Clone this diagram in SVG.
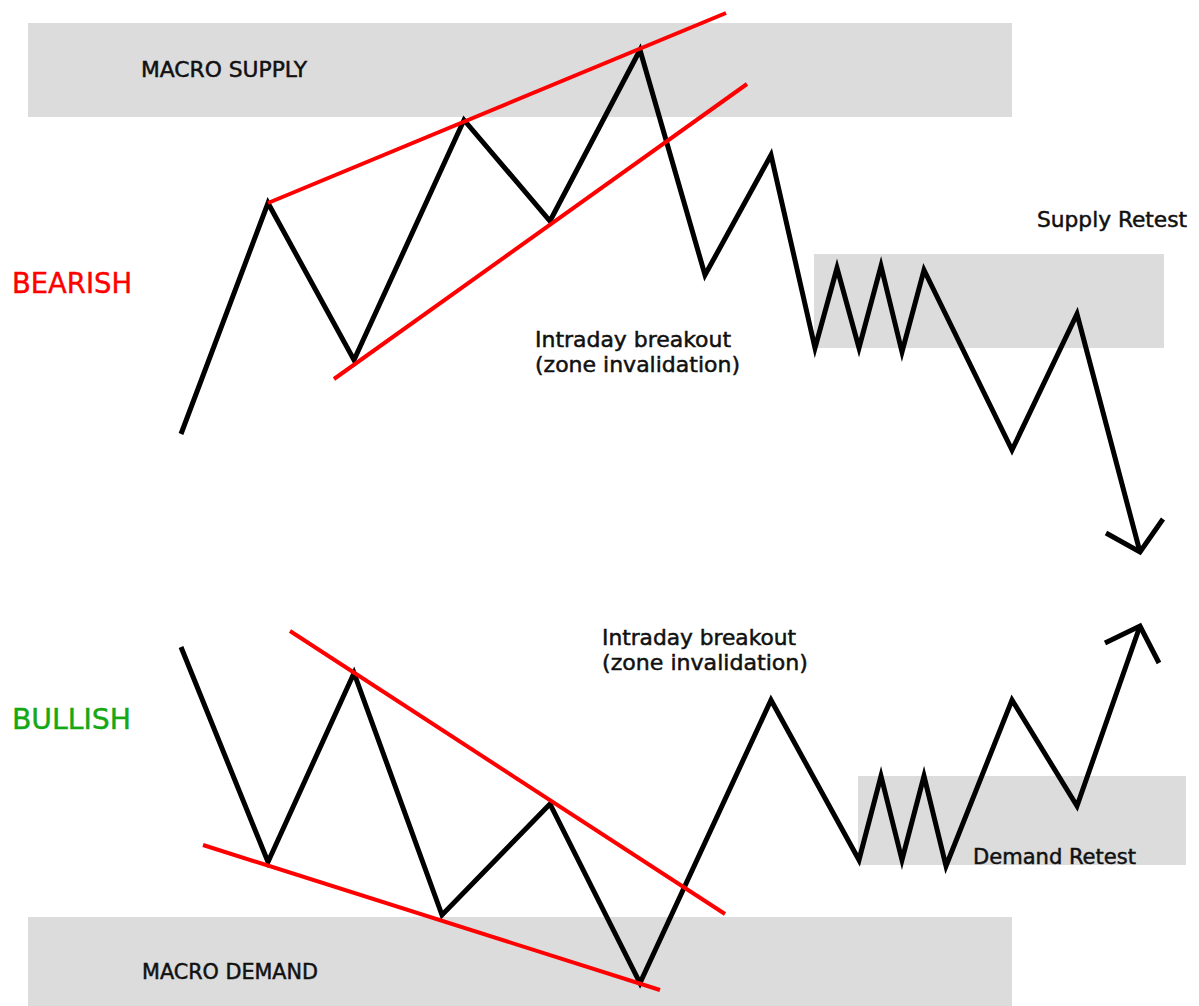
<svg xmlns="http://www.w3.org/2000/svg" width="1199" height="1006" viewBox="0 0 1199 1006">
<style>
.zone{fill:#dcdcdc}
.price{fill:none;stroke:#000;stroke-width:5;stroke-linejoin:miter;stroke-miterlimit:10}
.trend{fill:none;stroke:#ff0000;stroke-width:4}
.lbl{font-family:"DejaVu Sans Condensed","DejaVu Sans","Liberation Sans",sans-serif;font-size:21px;fill:#111;stroke:#111;stroke-width:0.45}
.big{font-family:"DejaVu Sans Condensed","DejaVu Sans","Liberation Sans",sans-serif;font-size:28px;stroke-width:0.4}
</style>
<rect width="1199" height="1006" fill="#fff"/>
<g id="macro-supply"><rect class="zone" x="28" y="23" width="984" height="94"/><text class="lbl" x="141" y="77" textLength="166" lengthAdjust="spacingAndGlyphs">MACRO SUPPLY</text></g>
<g id="supply-retest"><rect class="zone" x="814" y="254" width="350" height="94"/><text class="lbl" x="1037" y="227" textLength="150" lengthAdjust="spacingAndGlyphs">Supply Retest</text></g>
<g id="demand-retest"><rect class="zone" x="858" y="776" width="328" height="89"/><text class="lbl" x="973" y="864" textLength="163" lengthAdjust="spacingAndGlyphs">Demand Retest</text></g>
<g id="macro-demand"><rect class="zone" x="28" y="917" width="984" height="89"/><text class="lbl" x="142" y="979" textLength="176" lengthAdjust="spacingAndGlyphs">MACRO DEMAND</text></g>
<g id="bearish-label"><text class="big" x="12" y="293" fill="#ff0000" stroke="#ff0000" textLength="120" lengthAdjust="spacingAndGlyphs">BEARISH</text></g>
<g id="bullish-label"><text class="big" x="12" y="729" fill="#14a814" stroke="#14a814" textLength="119" lengthAdjust="spacingAndGlyphs">BULLISH</text></g>
<g id="bearish-breakout-label"><text class="lbl" x="535" y="347" textLength="196" lengthAdjust="spacingAndGlyphs">Intraday breakout</text><text class="lbl" x="535" y="372" textLength="205" lengthAdjust="spacingAndGlyphs">(zone invalidation)</text></g>
<g id="bullish-breakout-label"><text class="lbl" x="602" y="645" textLength="194" lengthAdjust="spacingAndGlyphs">Intraday breakout</text><text class="lbl" x="602" y="670" textLength="206" lengthAdjust="spacingAndGlyphs">(zone invalidation)</text></g>
<g id="connectors">
<polyline class="price" points="181,434 268,203 354,360 464,120 550,221 640,50 705,275 771,155 815,348 837,268 859,348 881,266 902,352 924,270 1012,450 1077,314 1140,552"/>
<polyline class="price" points="1106,533 1140,552 1163,519"/>
<line class="trend" x1="268" y1="203" x2="726" y2="13"/>
<line class="trend" x1="334" y1="379" x2="747" y2="84"/>
<polyline class="price" points="181,647 268,862 354,673 442,915 550,804 640,983 771,700 859,860 881,776 902,860 924,776 946,866 1012,700 1077,806 1140,626"/>
<polyline class="price" points="1105,643 1140,626 1159,663"/>
<line class="trend" x1="290" y1="631" x2="725" y2="914"/>
<line class="trend" x1="203" y1="845" x2="660" y2="990"/>
</g>
</svg>
